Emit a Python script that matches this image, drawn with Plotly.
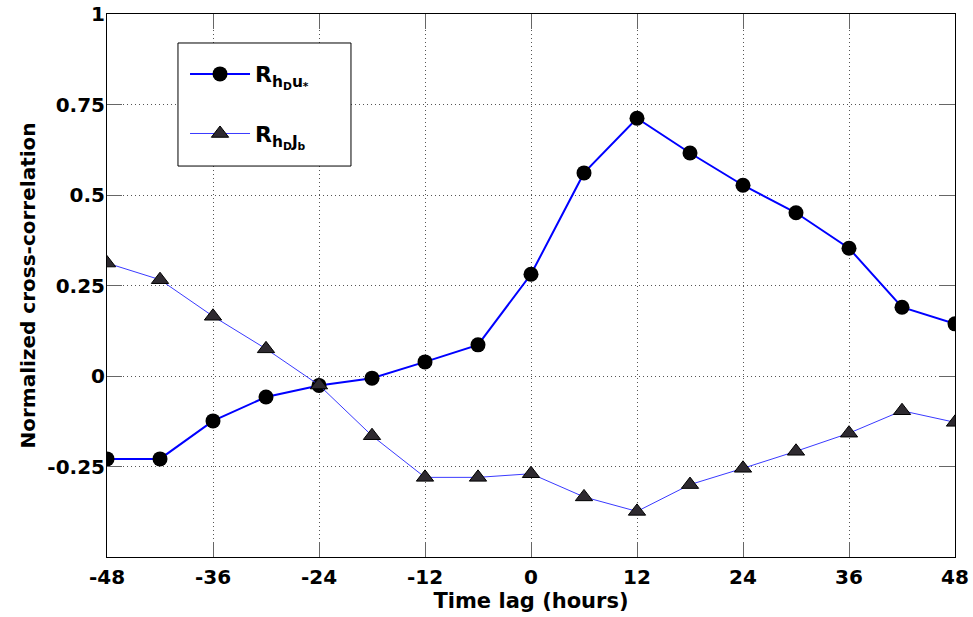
import plotly.graph_objects as go

lags = [-48, -42, -36, -30, -24, -18, -12, -6, 0, 6, 12, 18, 24, 30, 36, 42, 48]
r_hd_ustar = [-0.229, -0.229, -0.124, -0.058, -0.026, -0.006, 0.039, 0.086, 0.281,
              0.561, 0.712, 0.616, 0.527, 0.451, 0.353, 0.190, 0.144]
r_hd_jb = [0.312, 0.266, 0.165, 0.075, -0.025, -0.165, -0.280, -0.280, -0.270,
           -0.334, -0.374, -0.300, -0.255, -0.208, -0.158, -0.096, -0.128]

x_ticks = [-48, -36, -24, -12, 0, 12, 24, 36, 48]
y_ticks = [-0.25, 0, 0.25, 0.5, 0.75, 1]
y_ticklabels = ["-0.25", "0", "0.25", "0.5", "0.75", "1"]

name1 = "R<sub>h<sub>D</sub>u<sub>*</sub></sub>"
name2 = "R<sub>h<sub>D</sub>J<sub>b</sub></sub>"

FONT = "DejaVu Sans"

fig = go.Figure()
fig.add_trace(go.Scatter(
    x=lags, y=r_hd_ustar, name=name1, mode="lines+markers", legendgroup="a",
    line=dict(color="#0000ff", width=2),
    marker=dict(symbol="circle", size=15, color="black", line=dict(color="black", width=0)),
))
fig.add_trace(go.Scatter(
    x=lags, y=r_hd_jb, name=name2, mode="lines+markers", legendgroup="b",
    line=dict(color="#3a3aff", width=1),
    marker=dict(symbol="triangle-up", size=15, color="#2e2a30", line=dict(color="black", width=1)),
))

axis_common = dict(
    showline=True, linecolor="black", linewidth=1, mirror="ticks",
    ticks="inside", ticklen=15, tickcolor="#666666", tickwidth=1,
    showgrid=True, gridcolor="#555555", griddash="1px,3px", gridwidth=1,
    zeroline=False, automargin=False, ticklabeloverflow="allow",
    tickfont=dict(family=FONT, size=20, color="black", weight="bold"),
)

fig.update_xaxes(
    range=[-48, 48], tickvals=x_ticks, ticktext=[str(v) for v in x_ticks],
    title=dict(text="Time lag (hours)", font=dict(family=FONT, size=21, color="black", weight="bold"), standoff=0),
    ticklabelstandoff=2,
    **axis_common,
)
fig.update_yaxes(
    range=[-0.5, 1], tickvals=y_ticks, ticktext=y_ticklabels,
    title=dict(text="Normalized cross-correlation", font=dict(family=FONT, size=20, color="black", weight="bold"), standoff=6),
    ticklabelstandoff=-3,
    **axis_common,
)

# legend frame
fig.add_shape(type="rect", xref="paper", yref="paper",
              x0=0.0837, x1=0.2877, y0=0.720, y1=0.9466,
              fillcolor="white", line=dict(color="black", width=1), layer="above")

fig.update_layout(
    width=973, height=617,
    margin=dict(l=107, r=18, t=14, b=60),
    paper_bgcolor="white", plot_bgcolor="white",
    showlegend=True,
    legend=dict(
        x=0.092, y=0.928, xanchor="left", yanchor="top",
        bgcolor="rgba(0,0,0,0)", borderwidth=0,
        font=dict(family=FONT, size=22, color="black", weight="bold"),
        itemwidth=60, traceorder="grouped", tracegroupgap=28,
    ),
)

fig.write_html(
    "out.html",
    config={"displayModeBar": False},
    post_script="document.body.style.margin='0px'; document.body.style.overflow='hidden';",
)
